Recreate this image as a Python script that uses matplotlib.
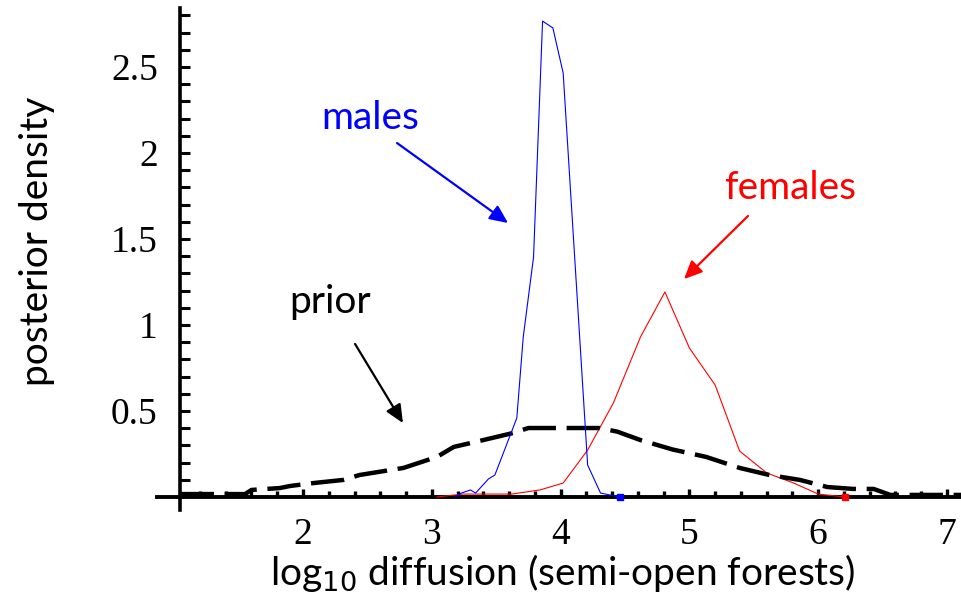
"""
Posterior density of log10 diffusion for males, females and the prior
"""

import matplotlib
matplotlib.use('Agg')
import matplotlib.pyplot as plt
from matplotlib.ticker import FixedLocator, FixedFormatter

# Data
males_x = [3.18, 3.23, 3.30, 3.34, 3.44, 3.49, 3.66, 3.71, 3.79, 3.86, 3.94, 4.02, 4.21, 4.31, 4.46]
males_y = [0.0, 0.023, 0.041, 0.023, 0.105, 0.128, 0.459, 0.930, 1.395, 2.767, 2.727, 2.465, 0.186, 0.023, 0.0]

females_x = [3.04, 3.24, 3.62, 3.84, 4.02, 4.21, 4.41, 4.62, 4.81, 5.00, 5.20, 5.39, 5.60, 5.81, 6.00, 6.21]
females_y = [0.0, 0.017, 0.017, 0.041, 0.081, 0.273, 0.547, 0.930, 1.192, 0.866, 0.651, 0.267, 0.140, 0.081, 0.017, 0.0]

prior_x = [1.05, 1.55, 1.60, 1.82, 1.90, 2.08, 2.31, 2.44, 2.78, 3.04, 3.17, 3.40, 3.63, 3.75,
           4.30, 4.44, 4.62, 4.87, 5.13, 5.39, 5.62, 5.86, 6.07, 6.27, 6.43, 6.56, 7.11]
prior_y = [0.017, 0.017, 0.041, 0.052, 0.064, 0.081, 0.099, 0.128, 0.169, 0.233, 0.291, 0.331, 0.372, 0.401,
           0.401, 0.380, 0.331, 0.276, 0.233, 0.169, 0.128, 0.099, 0.058, 0.047, 0.047, 0.012, 0.012]

x_ticks = [2, 3, 4, 5, 6, 7]
x_labels = ['2', '3', '4', '5', '6', '7']
y_ticks = [0.5, 1.0, 1.5, 2.0, 2.5]
y_labels = ['0.5', '1', '1.5', '2', '2.5']

W, H = 961, 598
fig = plt.figure(figsize=(W / 100, H / 100), dpi=100)
# axes box in pixels: x 157..961, y 8..510
ax = fig.add_axes([157 / W, (H - 510) / H, (961 - 157) / W, (510 - 8) / H])
ax.set_xlim(0.8665, 7.1087)
ax.set_ylim(-0.0756, 2.843)

ax.plot(females_x, females_y, color='red', lw=0.8, zorder=3)
ax.plot(prior_x, prior_y, color='black', lw=3.2, dashes=(7.5, 2.4), zorder=4)
ax.plot(males_x, males_y, color='blue', lw=0.8, zorder=5)
# little end squares like the original
ax.plot(males_x[-1:], males_y[-1:], 's', color='blue', ms=4, zorder=6)
ax.plot(females_x[-1:], females_y[-1:], 's', color='red', ms=4, zorder=6)

# Mathematica-like crossing axes
for s in ['top', 'right']:
    ax.spines[s].set_visible(False)
ax.spines['left'].set_position(('data', 1.045))
ax.spines['bottom'].set_position(('data', 0))
ax.spines['left'].set_linewidth(2.6)
ax.spines['bottom'].set_linewidth(2.8)

ax.xaxis.set_major_locator(FixedLocator(x_ticks))
ax.xaxis.set_major_formatter(FixedFormatter(x_labels))
ax.xaxis.set_minor_locator(FixedLocator([1.2 + 0.2 * i for i in range(30) if (1.2 + 0.2 * i) < 7.1]))
ax.yaxis.set_major_locator(FixedLocator(y_ticks))
ax.yaxis.set_major_formatter(FixedFormatter(y_labels))
ax.yaxis.set_minor_locator(FixedLocator([0.1 * i for i in range(1, 29)]))

ax.tick_params(axis='x', which='major', direction='in', length=6, width=2.4, pad=15, labelsize=27)
ax.tick_params(axis='x', which='minor', direction='in', length=4, width=2.4)
ax.tick_params(axis='y', which='both', direction='in', length=7, width=2.2, pad=16, labelsize=27)
for lab in ax.get_xticklabels() + ax.get_yticklabels():
    lab.set_family('Liberation Serif')

label_font = 'Lato'
fig.text(563 / W, (H - 585) / H, r'log$_{10}$ diffusion (semi-open forests)', ha='center', va='baseline',
         fontsize=28, family=label_font)
fig.text(37 / W, (H - 241) / H, 'posterior density', rotation=90, ha='center', va='center',
         fontsize=28, family=label_font)

arrow = '-|>,head_length=0.55,head_width=0.25'
ax.text(2.52, 2.203, 'males', color='blue', fontsize=28, family=label_font, ha='center', va='center')
ax.annotate('', xy=(3.592, 1.593), xytext=(2.730, 2.058),
            arrowprops=dict(arrowstyle=arrow, color='blue', lw=1.6, mutation_scale=20, shrinkA=0, shrinkB=0))
ax.text(5.781, 1.797, 'females', color='red', fontsize=28, family=label_font, ha='center', va='center')
ax.annotate('', xy=(4.958, 1.267), xytext=(5.455, 1.634),
            arrowprops=dict(arrowstyle=arrow, color='red', lw=1.6, mutation_scale=20, shrinkA=0, shrinkB=0))
ax.text(2.21, 1.134, 'prior', color='black', fontsize=28, family=label_font, ha='center', va='center')
ax.annotate('', xy=(2.776, 0.430), xytext=(2.404, 0.890),
            arrowprops=dict(arrowstyle=arrow, color='black', lw=1.6, mutation_scale=20, shrinkA=0, shrinkB=0))

fig.savefig('out.png', dpi=100)
